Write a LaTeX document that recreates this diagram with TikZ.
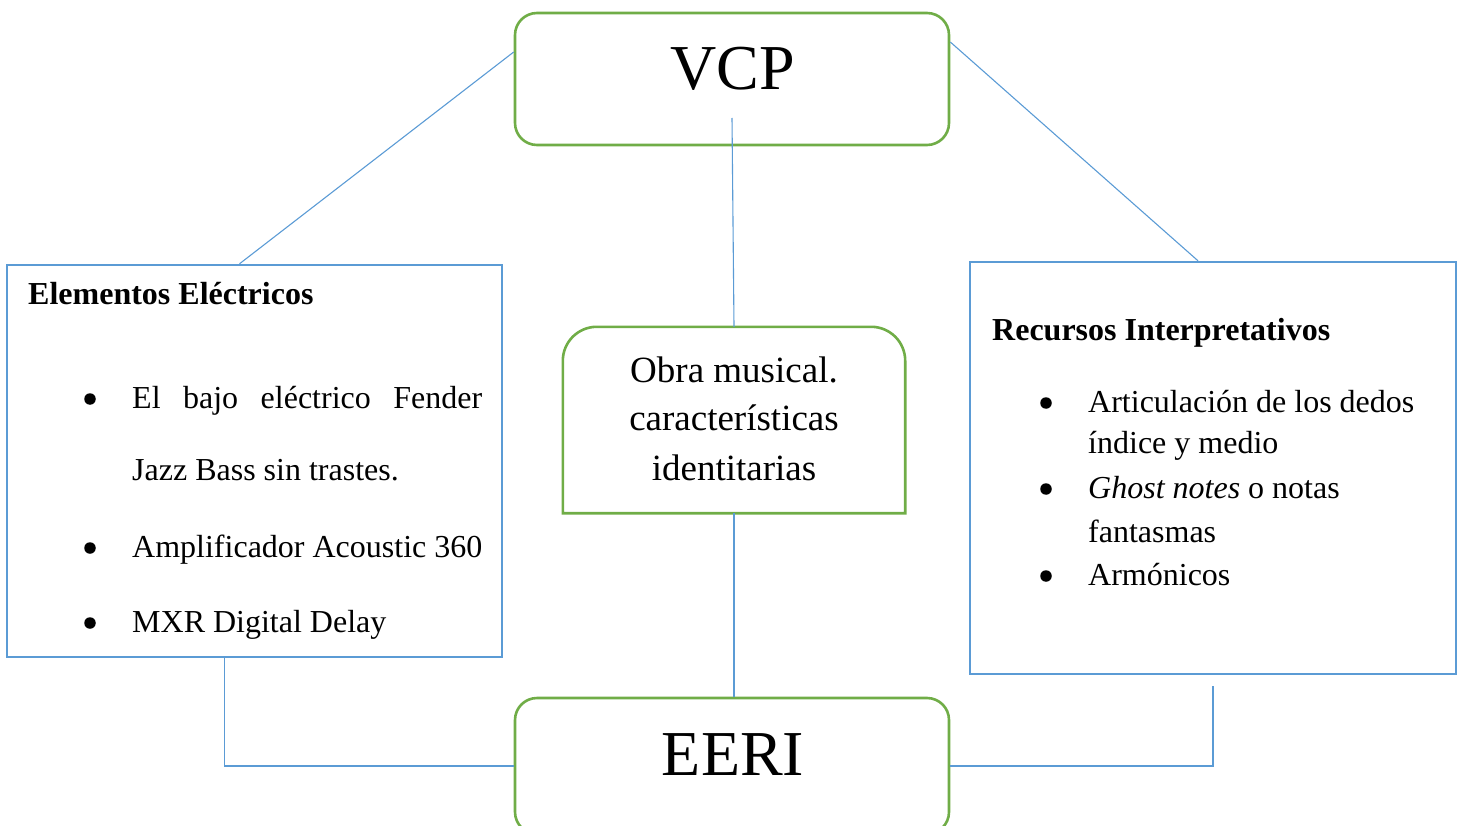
\documentclass[tikz,border=0pt]{standalone}
\usepackage{fontspec}
\setmainfont{Liberation Serif}
\usetikzlibrary{positioning,calc}
\definecolor{mGreen}{HTML}{70AD47}
\definecolor{mBlue}{HTML}{5B9BD5}

\begin{document}
\begin{tikzpicture}[
  x=1pt, y=-1pt,
  link/.style={line width=1.1pt, draw=mBlue},
  title/.style={rectangle, draw=mGreen, line width=2.6pt, rounded corners=22pt,
                minimum width=434pt, inner sep=0pt, fill=white},
  list/.style={rectangle, draw=mBlue, line width=2.4pt, inner sep=0pt},
  body/.style={inner sep=0pt, anchor=base west, font=\fontsize{32}{38}\selectfont},
  head/.style={body, font=\fontsize{32}{38}\selectfont\bfseries},
  dot/.style={circle, fill=black, inner sep=0pt, minimum size=11.5pt, yshift=9pt},
  big/.style={inner sep=0pt, anchor=base, font=\fontsize{64}{70}\selectfont},
  mid/.style={inner sep=0pt, anchor=base, font=\fontsize{37}{44}\selectfont},
]
\useasboundingbox (0,0) rectangle (1461,826);
\clip (0,0) rectangle (1461,826);

% boxes
\node[title, minimum height=132pt] (vcp) at (732,79) {};
\node[title, minimum height=136pt] (eeri) at (732,766) {};
\node[list, minimum width=495pt, minimum height=392pt] (elec) at (254.5,461) {};
\node[list, minimum width=486pt, minimum height=412pt] (rec) at (1213,468) {};
\node[minimum width=342pt, minimum height=186pt, inner sep=0pt] (obra) at (734,420) {};
\draw[draw=mGreen, line width=2.6pt] (obra.south west) -- ([yshift=-34pt]obra.north west)
  arc[start angle=180, end angle=90, radius=34pt] -- ([xshift=-34pt]obra.north east)
  arc[start angle=90, end angle=0, radius=34pt] -- (obra.south east) -- cycle;

% connectors
\draw[link] ([yshift=27pt]vcp.west) -- ([xshift=-15pt]elec.north);
\draw[link] ([yshift=37pt]vcp.east) -- ([xshift=-15pt]rec.north);
\draw[link] ([yshift=-39pt]vcp.center) -- (obra.north);
\draw[link] (obra.south) -- (obra.south |- eeri.north);
\draw[link] ([xshift=-30pt]elec.south) |- (eeri.west);
\draw[link] (eeri.east) -| ([yshift=-11pt]rec.south);

% titles
\node[big] (vcpT) at (733,90) {VCP};
\node[big] (eeriT) at (733,775) {EERI};
\node[mid] (obra1) at (734,382) {Obra musical.};
\node[mid] (obra2) at (734,430) {características};
\node[mid] (obra3) at (734,480) {identitarias};

% Elementos Electricos
\node[head] (elecH) at (28,305) {Elementos Eléctricos};
\foreach \y in {408,557,632} \node[dot] at (90,\y) {};
\node[body] (e1) at (132,408) {\makebox[350pt][s]{El bajo eléctrico Fender}};
\node[body] (e2) at (132,480) {Jazz Bass sin trastes.};
\node[body] (e3) at (132,557) {Amplificador Acoustic 360};
\node[body] (e4) at (132,632) {MXR Digital Delay};

% Recursos Interpretativos
\node[head] (recH) at (992,340) {Recursos Interpretativos};
\foreach \y in {412,498,585} \node[dot] at (1046,\y) {};
\node[body] (r1) at (1088,412) {Articulación de los dedos};
\node[body] (r2) at (1088,453) {índice y medio};
\node[body] (r3) at (1088,498) {\textit{Ghost notes} o notas};
\node[body] (r4) at (1088,542) {fantasmas};
\node[body] (r5) at (1088,585) {Armónicos};

\end{tikzpicture}
\end{document}
